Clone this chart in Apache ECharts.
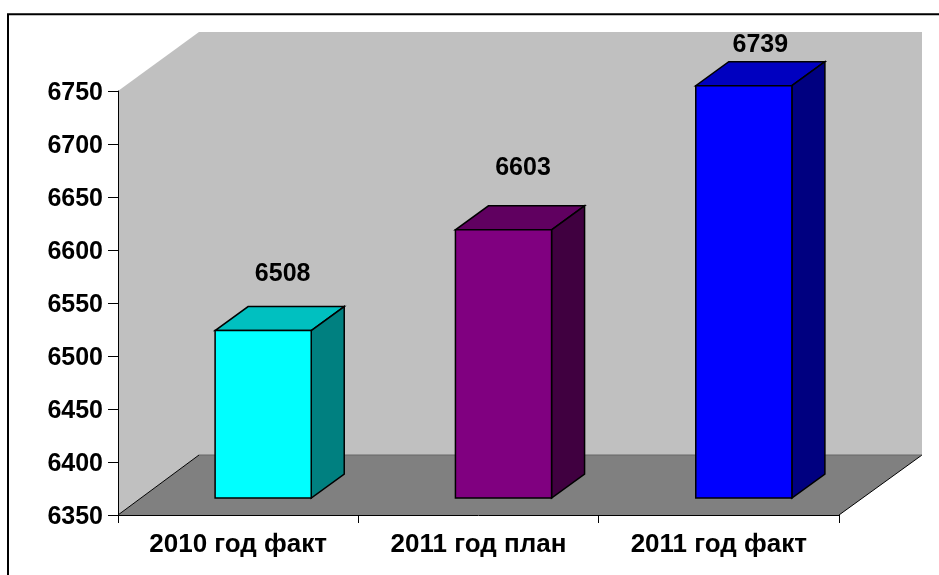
<!DOCTYPE html>
<html>
<head>
<meta charset="utf-8">
<style>html,body{margin:0;padding:0;background:#fff}#c{width:939px;height:575px}</style>
<script src="https://cdn.jsdelivr.net/npm/echarts@6/dist/echarts.min.js"></script>
</head>
<body>
<div id="c"></div>
<script>
const categories = ['2010 год факт', '2011 год план', '2011 год факт'];
const values = [6508, 6603, 6739];
const axisMin = 6350, axisMax = 6750, axisStep = 50;
const frontColors = ['#00ffff', '#800080', '#0000ff'];
const topColors = ['#00c0c0', '#600060', '#0000c0'];
const sideColors = ['#008080', '#400040', '#000080'];
const labelLift = [56, 62, 41];
const labelNudge = [0, 0, -3];

const FONT = '"Liberation Sans", Arial, sans-serif';
const wallDX = 81, wallDY = -60, wallTopDY = -59;
const barShiftX = 25, barShiftY = -17, barDepthX = 33, barDepthY = -24;
const barWidthRatio = 0.4;

function poly(points, fill, stroke, lw) {
  return {type: 'polygon', shape: {points}, style: {fill, stroke: stroke || 'none', lineWidth: lw || 0}};
}

function renderWalls(params, api) {
  const cs = params.coordSys;
  const l = cs.x, r = cs.x + cs.width, t = cs.y, b = cs.y + cs.height;
  return {type: 'group', children: [
    poly([[l, t], [l + wallDX, t + wallTopDY], [l + wallDX, b + wallDY], [l, b]], '#c0c0c0'),
    poly([[l + wallDX, t + wallTopDY], [r + wallDX + 2, t + wallTopDY], [r + wallDX + 2, b + wallDY], [l + wallDX, b + wallDY]], '#c0c0c0'),
    poly([[l, b], [l + wallDX, b + wallDY], [r + wallDX + 2, b + wallDY], [r, b]], '#808080'),
    {type: 'line', shape: {x1: l, y1: b, x2: l + wallDX, y2: b + wallDY}, style: {stroke: '#000', lineWidth: 1}},
    {type: 'line', shape: {x1: r, y1: b, x2: r + wallDX + 2, y2: b + wallDY}, style: {stroke: '#000', lineWidth: 1}},
    {type: 'line', shape: {x1: l + wallDX, y1: b + wallDY, x2: r + wallDX + 2, y2: b + wallDY}, style: {stroke: '#666', lineWidth: 1}}
  ]};
}

function renderBar(params, api) {
  const i = api.value(0), v = api.value(1);
  const topPt = api.coord([i, v]), basePt = api.coord([i, axisMin]);
  const w = api.size([1, 0])[0] * barWidthRatio;
  const x0 = topPt[0] + barShiftX - w / 2, x1 = x0 + w;
  const yT = topPt[1] + barShiftY, yB = basePt[1] + barShiftY;
  const s = {stroke: '#000', lw: 1.5};
  return {type: 'group', children: [
    poly([[x0, yT], [x1, yT], [x1 + barDepthX, yT + barDepthY], [x0 + barDepthX, yT + barDepthY]], topColors[i], s.stroke, s.lw),
    poly([[x1, yT], [x1 + barDepthX, yT + barDepthY], [x1 + barDepthX, yB + barDepthY], [x1, yB]], sideColors[i], s.stroke, s.lw),
    poly([[x0, yT], [x1, yT], [x1, yB], [x0, yB]], frontColors[i], s.stroke, s.lw),
    {type: 'text', style: {
      x: topPt[0] + barShiftX + 19.5 + labelNudge[i], y: yT - labelLift[i], text: String(v),
      fill: '#000', font: 'bold 25px ' + FONT, align: 'center', verticalAlign: 'middle'
    }}
  ]};
}

const chart = echarts.init(document.getElementById('c'), null, {renderer: 'canvas'});
chart.setOption({
  animation: false,
  backgroundColor: '#fff',
  graphic: [{
    type: 'rect', z: 0, silent: true,
    shape: {x: 8, y: 14.3, width: 1200, height: 1200},
    style: {fill: 'none', stroke: '#000', lineWidth: 2}
  }],
  grid: {left: 118, top: 91, width: 721, height: 424, containLabel: false},
  xAxis: {
    type: 'category', data: categories, z: 5,
    axisLine: {show: true, lineStyle: {color: '#000', width: 1}},
    axisTick: {show: true, alignWithLabel: false, length: 8, lineStyle: {color: '#000', width: 1}},
    axisLabel: {color: '#000', fontFamily: FONT, fontWeight: 'bold', fontSize: 26, margin: 17},
    splitLine: {show: false}
  },
  yAxis: {
    type: 'value', min: axisMin, max: axisMax, interval: axisStep, z: 5,
    axisLine: {show: true, lineStyle: {color: '#000', width: 1}},
    axisTick: {show: true, length: 10, lineStyle: {color: '#000', width: 1}},
    axisLabel: {color: '#000', fontFamily: FONT, fontWeight: 'bold', fontSize: 25, margin: 15,
      verticalAlign: 'top', lineHeight: 5, formatter: (v) => String(v)},
    splitLine: {show: false}
  },
  series: [
    {type: 'custom', z: 1, silent: true, coordinateSystem: 'cartesian2d', renderItem: renderWalls,
     data: [[0, axisMin]], clip: false},
    {type: 'custom', z: 2, silent: true, coordinateSystem: 'cartesian2d', renderItem: renderBar,
     encode: {x: 0, y: 1}, clip: false,
     data: values.map((v, i) => [i, v])}
  ]
});
</script>
</body>
</html>
